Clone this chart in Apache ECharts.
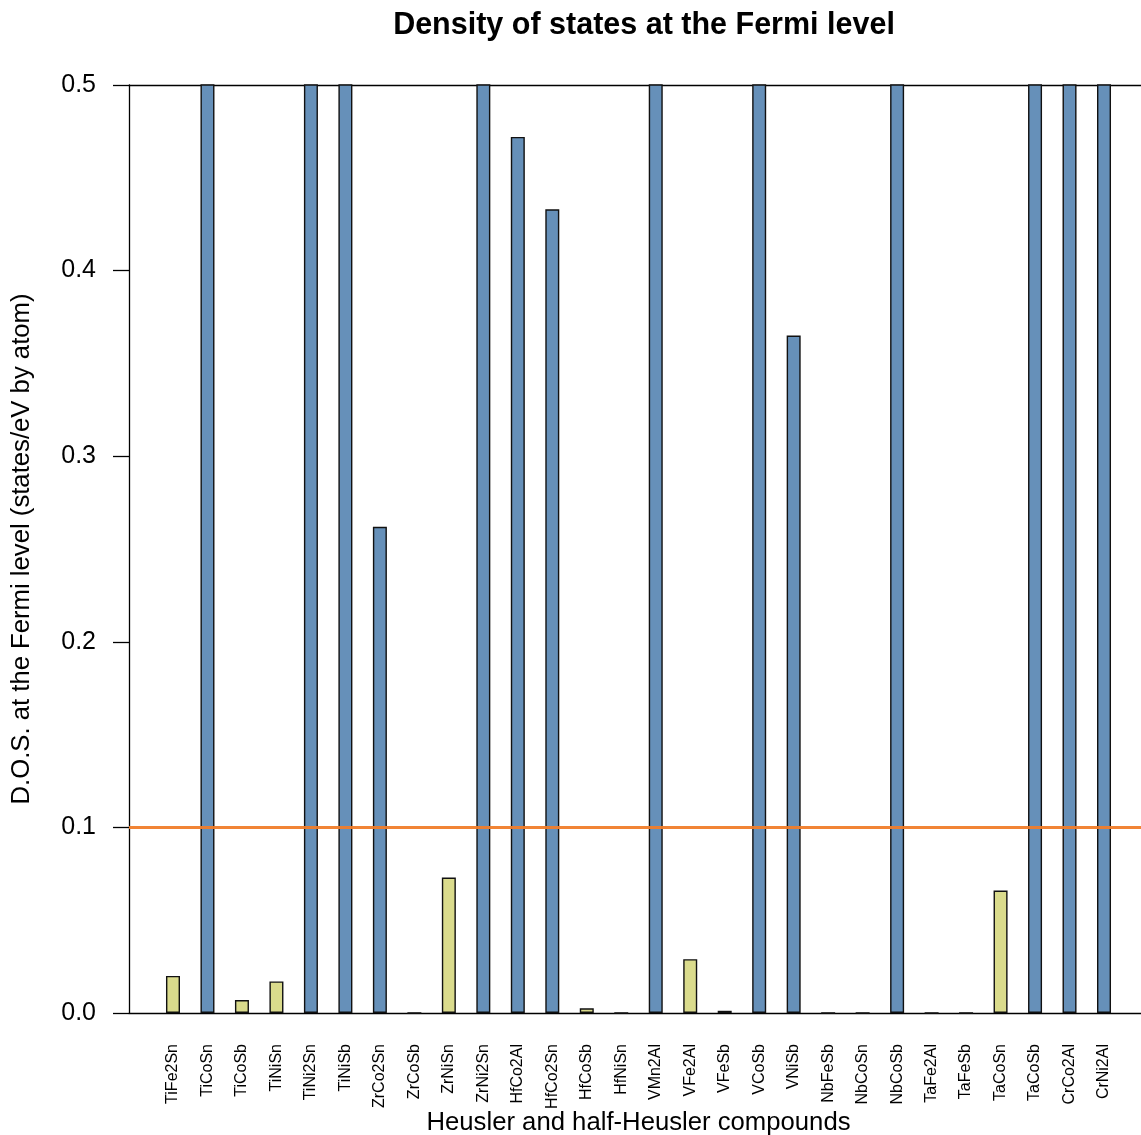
<!DOCTYPE html>
<html><head><meta charset="utf-8">
<script src="https://cdn.jsdelivr.net/npm/echarts@6/dist/echarts.min.js"></script>
<style>html,body{margin:0;padding:0;background:#fff}#c{width:1141px;height:1135px}</style>
</head><body><div id="c"></div>
<script>
const categories = ["TiFe2Sn","TiCoSn","TiCoSb","TiNiSn","TiNi2Sn","TiNiSb","ZrCo2Sn","ZrCoSb","ZrNiSn","ZrNi2Sn","HfCo2Al","HfCo2Sn","HfCoSb","HfNiSn","VMn2Al","VFe2Al","VFeSb","VCoSb","VNiSb","NbFeSb","NbCoSn","NbCoSb","TaFe2Al","TaFeSb","TaCoSn","TaCoSb","CrCo2Al","CrNi2Al"];
// values above 0.5 are clipped in the original plot (estimated)
const dosValues = [0.020,0.55,0.007,0.017,0.55,0.55,0.262,0,0.073,0.55,0.472,0.433,0.0025,0,0.55,0.029,0.0012,0.55,0.365,0,0,0.55,0,0,0.066,0.55,0.55,0.55];
const yTicks = [0.0,0.1,0.2,0.3,0.4,0.5];
const threshold = 0.1;
const thresholdLine = [[0, threshold],[1, threshold]];

const FONT = "Liberation Sans, Arial, sans-serif";
const chart = echarts.init(document.getElementById('c'));
const GRID_TOP = 85, GRID_BOTTOM = 122;
chart.setOption({
  animation: false,
  backgroundColor: '#fff',
  title: {
    text: 'Density of states at the Fermi level',
    left: 639, top: 5, textAlign: 'center',
    textStyle: {fontFamily: FONT, fontSize: 30.5, fontWeight: 'bold', color: '#000'}
  },
  grid: [
    {left: 129, right: 0, top: GRID_TOP, bottom: GRID_BOTTOM, outerBoundsMode: 'none', containLabel: false},
    {left: 155.75, right: 19.75, top: GRID_TOP, bottom: GRID_BOTTOM, outerBoundsMode: 'none', containLabel: false}
  ],
  xAxis: [
    {type: 'value', gridIndex: 0, min: 0, max: 1, position: 'bottom',
     axisLine: {show: true, onZero: false, lineStyle: {color: '#000', width: 1.3}},
     axisTick: {show: false}, axisLabel: {show: false}, splitLine: {show: false}},
    {type: 'value', gridIndex: 0, min: 0, max: 1, position: 'top',
     axisLine: {show: true, onZero: false, lineStyle: {color: '#000', width: 1.3}},
     axisTick: {show: false}, axisLabel: {show: false}, splitLine: {show: false}},
    {type: 'category', gridIndex: 1, data: categories,
     axisLine: {show: false}, axisTick: {show: false},
     axisLabel: {rotate: 90, interval: 0, margin: 31, fontFamily: FONT, fontSize: 16, color: '#000'},
     name: 'Heusler and half-Heusler compounds', nameLocation: 'middle', nameGap: 97,
     nameMoveOverlap: false,
     nameTextStyle: {fontFamily: FONT, fontSize: 25.7, color: '#000'}}
  ],
  yAxis: [
    {type: 'value', gridIndex: 0, min: 0, max: 0.5, interval: 0.1,
     axisLine: {show: true, lineStyle: {color: '#000', width: 1.3}},
     axisTick: {show: true, inside: false, length: 16, lineStyle: {color: '#000', width: 1.3}},
     axisLabel: {margin: 33, fontFamily: FONT, fontSize: 25, color: '#000',
                 formatter: v => yTicks.includes(Math.round(v*10)/10) ? v.toFixed(1) : ''},
     splitLine: {show: false},
     name: 'D.O.S. at the Fermi level (states/eV by atom)', nameLocation: 'middle', nameGap: 94,
     nameRotate: 90, nameMoveOverlap: false,
     nameTextStyle: {fontFamily: FONT, fontSize: 25.7, color: '#000'}},
    {type: 'value', gridIndex: 1, min: 0, max: 0.5, show: false, splitLine: {show: false}}
  ],
  series: [
    {type: 'bar', xAxisIndex: 2, yAxisIndex: 1, barWidth: 14, clip: true, z: 2,
     data: dosValues.map(v => ({
       value: v,
       itemStyle: {color: v > threshold ? '#6690b9' : '#dadb8c', borderColor: '#111', borderWidth: 1.4}
     }))},
    {type: 'line', xAxisIndex: 0, yAxisIndex: 0, data: thresholdLine, symbol: 'none', z: 10,
     lineStyle: {color: '#f07d2a', width: 3, opacity: 0.95}}
  ]
});
</script></body></html>
